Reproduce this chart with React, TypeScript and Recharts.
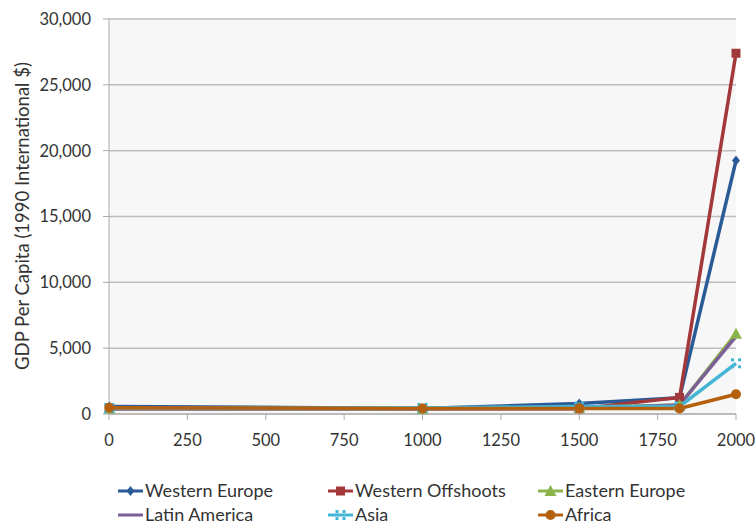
import { CartesianGrid, Legend, Line, LineChart, XAxis, YAxis } from 'recharts'

const years = [1, 1000, 1500, 1820, 2000]
const westernEurope = [576, 427, 800, 1230, 19250]
const westernOffshoots = [400, 400, 400, 1260, 27400]
const easternEurope = [412, 400, 496, 683, 6100]
const latinAmerica = [400, 400, 416, 691, 5900]
const asia = [456, 465, 568, 577, 3850]
const africa = [472, 425, 414, 420, 1500]

const xTicks = [0, 250, 500, 750, 1000, 1250, 1500, 1750, 2000]
const yTicks = [0, 5000, 10000, 15000, 20000, 25000, 30000]

const data = years.map((year, i) => ({
  year,
  we: westernEurope[i],
  wo: westernOffshoots[i],
  ee: easternEurope[i],
  la: latinAmerica[i],
  asia: asia[i],
  africa: africa[i],
}))

const FONT = 'Lato, sans-serif'
const TEXT = '#333'

type Shape = 'diamond' | 'square' | 'triangle' | 'none' | 'dots' | 'circle'

const series: { key: string; name: string; color: string; shape: Shape }[] = [
  { key: 'we', name: 'Western Europe', color: '#2b5b97', shape: 'diamond' },
  { key: 'wo', name: 'Western Offshoots', color: '#a3383b', shape: 'square' },
  { key: 'ee', name: 'Eastern Europe', color: '#8cb44c', shape: 'triangle' },
  { key: 'la', name: 'Latin America', color: '#7b5f97', shape: 'none' },
  { key: 'asia', name: 'Asia', color: '#44b5d4', shape: 'dots' },
  { key: 'africa', name: 'Africa', color: '#b5600f', shape: 'circle' },
]

function marker(shape: Shape, cx: number, cy: number, color: string, k?: string) {
  switch (shape) {
    case 'diamond':
      return <path key={k} d={`M${cx},${cy - 5}L${cx + 4},${cy}L${cx},${cy + 5}L${cx - 4},${cy}Z`} fill={color} />
    case 'square':
      return <rect key={k} x={cx - 4.5} y={cy - 4.5} width={9} height={9} fill={color} />
    case 'triangle':
      return <path key={k} d={`M${cx},${cy - 6}L${cx + 6},${cy + 5}L${cx - 6},${cy + 5}Z`} fill={color} />
    case 'dots':
      return (
        <g key={k} fill={color}>
          <rect x={cx - 5} y={cy - 5} width={3} height={3} />
          <rect x={cx + 2} y={cy - 5} width={3} height={3} />
          <rect x={cx - 5} y={cy + 2} width={3} height={3} />
          <rect x={cx + 2} y={cy + 2} width={3} height={3} />
        </g>
      )
    case 'circle':
      return <circle key={k} cx={cx} cy={cy} r={5} fill={color} />
    default:
      return <g key={k} />
  }
}

function LegendContent() {
  const cols = [118, 328, 538]
  const rows = [491, 515]
  return (
    <svg width={756} height={64} style={{ display: 'block', overflow: 'visible' }}>
      <g transform="translate(0,-461)">
        {series.map((s, i) => {
          const x = cols[i % 3]
          const y = rows[Math.floor(i / 3)]
          return (
            <g key={s.key}>
              <line x1={x} x2={x + 25} y1={y} y2={y} stroke={s.color} strokeWidth={3} />
              {marker(s.shape, x + 12.5, y, s.color)}
              <text x={x + 27} y={y} dy="0.35em" fontSize={18} fontFamily={FONT} fill={TEXT}>
                {s.name}
              </text>
            </g>
          )
        })}
      </g>
    </svg>
  )
}

function YLabel() {
  return (
    <text
      transform="translate(22,216) rotate(-90)"
      textAnchor="middle"
      dominantBaseline="central"
      fontSize={18.5}
      fontFamily={FONT}
      fill={TEXT}
    >
      GDP Per Capita (1990 International $)
    </text>
  )
}

export default function App() {
  return (
    <div style={{ position: 'absolute', left: 0, top: 0 }}>
      <LineChart
        width={756}
        height={525}
        data={data}
        margin={{ top: 19, right: 20, left: 0, bottom: 0 }}
      >
        <CartesianGrid vertical={false} stroke="#bdbdbd" strokeWidth={1.5} fill="#f7f7f7" />
        <XAxis
          dataKey="year"
          type="number"
          domain={[0, 2000]}
          ticks={xTicks}
          height={47}
          tickSize={6}
          tickMargin={14}
          stroke="#aaa"
          tick={{ fill: TEXT, fontSize: 16.5, fontFamily: FONT }}
        />
        <YAxis
          domain={[0, 30000]}
          ticks={yTicks}
          width={109}
          tickSize={6}
          tickMargin={12}
          stroke="#aaa"
          tickFormatter={(v: number) => v.toLocaleString('en-US')}
          tick={{ fill: TEXT, fontSize: 16.5, fontFamily: FONT }}
          label={{ content: () => <YLabel /> }}
        />
        {series.map((s) => (
          <Line
            key={s.key}
            dataKey={s.key}
            name={s.name}
            type="linear"
            stroke={s.color}
            strokeWidth={3.5}
            isAnimationActive={false}
            dot={(p: any) => marker(s.shape, p.cx, p.cy, s.color, `${s.key}-${p.index}`)}
            activeDot={false}
          />
        ))}
        <Legend
          verticalAlign="bottom"
          content={() => <LegendContent />}
          wrapperStyle={{ height: 64 }}
        />
      </LineChart>
    </div>
  )
}
